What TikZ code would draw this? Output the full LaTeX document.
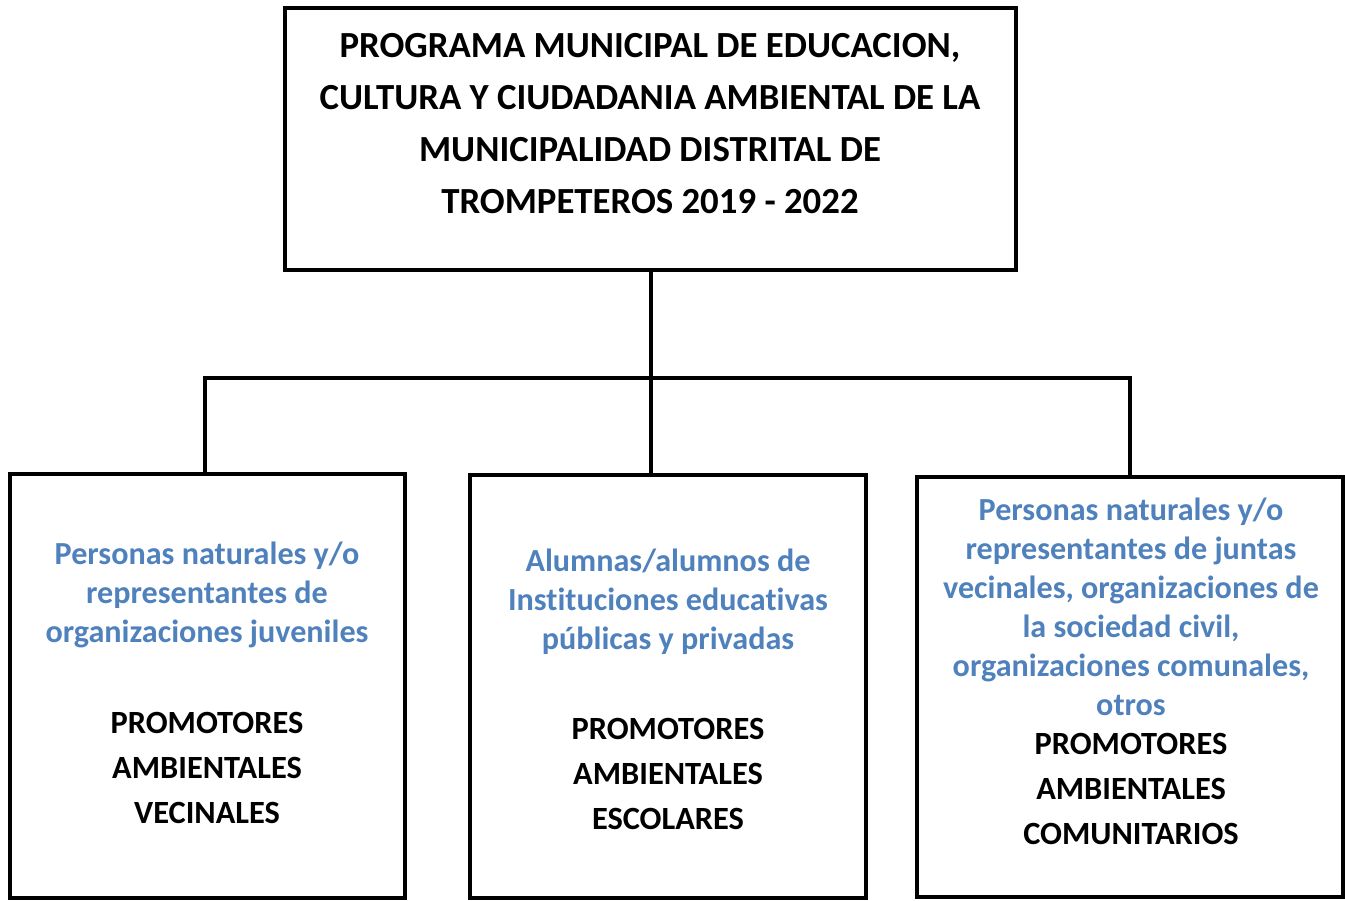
\documentclass[tikz,border=0pt]{standalone}
\usepackage{fontspec}
\setmainfont{Carlito}[Ligatures=NoCommon]
\definecolor{azul}{HTML}{4F81BD}
\tikzset{
    caja/.style={draw, line width=3pt, inner sep=0pt},
    titulo/.style={align=center, font=\fontsize{27.6}{39}\selectfont\bfseries},
    quienes/.style={align=center, text=azul, font=\fontsize{24.1}{29.25}\selectfont\bfseries},
    promotores/.style={align=center, font=\fontsize{24.3}{33.75}\selectfont\bfseries}
}
\begin{document}
\begin{tikzpicture}[x=0.75pt, y=-0.75pt]
    \useasboundingbox (0,0) rectangle (1345,900);

    \node [caja, minimum width=548.25pt, minimum height=196.5pt] (PROG) at (650.5,139) {};
    \node [caja, minimum width=296.25pt, minimum height=318pt] (VEC) at (207.5,686) {};
    \node [caja, minimum width=297pt, minimum height=317.25pt] (ESC) at (668,686.5) {};
    \node [caja, minimum width=319.5pt, minimum height=315pt] (COM) at (1130,687) {};
        \coordinate (split) at (651,378);
        \coordinate (VECtop) at (205,474);

    \node [titulo] (PROGtxt) at (650,123.5) {PROGRAMA MUNICIPAL DE EDUCACION,\\CULTURA Y CIUDADANIA AMBIENTAL DE LA\\MUNICIPALIDAD DISTRITAL DE\\TROMPETEROS 2019 - 2022};

    \node [quienes] (VECq) at (207,595) {Personas naturales y/o\\representantes de\\organizaciones juveniles};
    \node [promotores] (VECp) at (207,768) {PROMOTORES\\AMBIENTALES\\VECINALES};

    \node [quienes] (ESCq) at (668,602) {Alumnas/alumnos de\\Instituciones educativas\\públicas y privadas};
    \node [promotores] (ESCp) at (668,774) {PROMOTORES\\AMBIENTALES\\ESCOLARES};

    \node [quienes] (COMq) at (1131,607) {Personas naturales y/o\\representantes de juntas\\vecinales, organizaciones de\\la sociedad civil,\\organizaciones comunales,\\otros};
    \node [promotores] (COMp) at (1131,789) {PROMOTORES\\AMBIENTALES\\COMUNITARIOS};

    \draw [line width=3pt] (PROG.south) -- (PROG.south |- ESC.north);
    \draw [line width=3pt] (VECtop) |- (split) -| (COM.north);

\end{tikzpicture}
\end{document}
